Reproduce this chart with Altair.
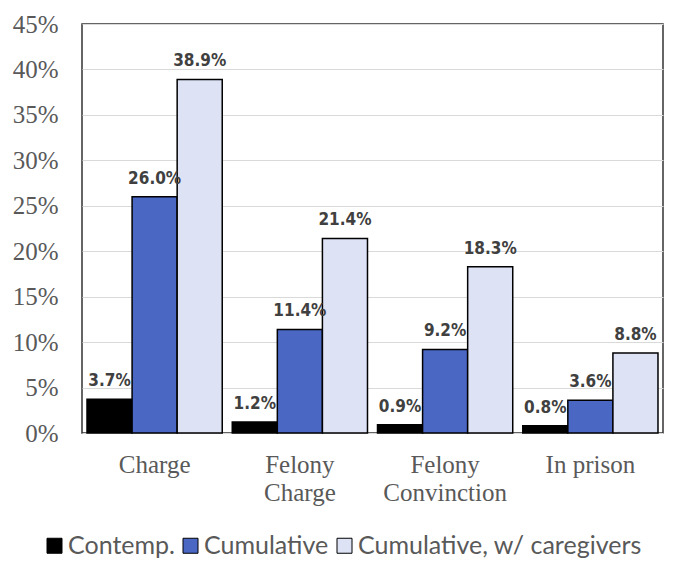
import altair as alt
import pandas as pd

categories = ["Charge", "Felony Charge", "Felony Convinction", "In prison"]
series = ["Contemp.", "Cumulative", "Cumulative, w/ caregivers"]
contemp = [0.037, 0.012, 0.009, 0.008]
cumulative = [0.260, 0.114, 0.092, 0.036]
caregivers = [0.389, 0.214, 0.183, 0.088]
colors = ["#000000", "#4a67c4", "#dde2f5"]
y_ticks = [0, 0.05, 0.10, 0.15, 0.20, 0.25, 0.30, 0.35, 0.40, 0.45]

SERIF = "Liberation Serif, Times New Roman, Times, serif"
NARROW = "Liberation Sans Narrow, DejaVu Sans Condensed, Liberation Sans, Arial, sans-serif"
LEGEND_FONT = "Lato, Open Sans, sans-serif"

rows = []
for i, c in enumerate(categories):
    for s, vals in zip(series, [contemp, cumulative, caregivers]):
        rows.append({"category": c, "series": s, "value": vals[i]})
df = pd.DataFrame(rows)

x_enc = alt.X("category:N", sort=categories,
              scale=alt.Scale(paddingInner=0.069, paddingOuter=0.0345),
              axis=alt.Axis(title=None, labelAngle=0, domain=False, ticks=False,
                            labelFont=SERIF, labelFontSize=25,
                            labelColor="#595959", labelPadding=19,
                            labelLineHeight=28,
                            labelExpr="datum.value == 'In prison' ? datum.value : split(datum.value, ' ')"))
xoff = alt.XOffset("series:N", sort=series, scale=alt.Scale(paddingInner=0, paddingOuter=0))

y_enc = alt.Y("value:Q", scale=alt.Scale(domain=[0, 0.45], nice=False),
              axis=alt.Axis(title=None, values=y_ticks, format=".0%",
                            labelFont=SERIF, labelFontSize=25,
                            labelColor="#595959", labelPadding=24,
                            ticks=False, domain=False,
                            grid=True, gridColor="#d9d9d9", gridWidth=1))

base = alt.Chart(df)

bars = base.mark_bar(stroke="#000000", strokeWidth=1.5).encode(
    x=x_enc,
    xOffset=xoff,
    y=y_enc,
    color=alt.Color("series:N", sort=series,
                    scale=alt.Scale(domain=series, range=colors),
                    legend=alt.Legend(title=None, orient="none", direction="horizontal",
                                      legendX=-40, legendY=509,
                                      symbolType="square", symbolSize=225,
                                      symbolStrokeColor="#000000", symbolStrokeWidth=1,
                                      labelFont=LEGEND_FONT, labelFontSize=25,
                                      labelColor="#595959", labelOffset=1,
                                      labelLimit=500, columnPadding=3)),
)

labels = base.mark_text(dy=-9, baseline="bottom", font=NARROW,
                        fontWeight="bold", fontSize=17, color="#404040").encode(
    x=x_enc,
    xOffset=xoff,
    y=y_enc,
    text=alt.Text("value:Q", format=".1%"),
)

chart = (bars + labels).properties(
    width=581, height=409,
    autosize=alt.AutoSizeParams(type="none"),
    padding={"left": 74, "top": 16, "right": 9, "bottom": 140},
).configure_view(
    stroke="#333333", strokeWidth=1.5
).configure_axis(
    labelFont=SERIF, labelFontSize=25, labelColor="#595959"
)

chart.save("out.html", embed_options={"renderer": "svg", "actions": False})
